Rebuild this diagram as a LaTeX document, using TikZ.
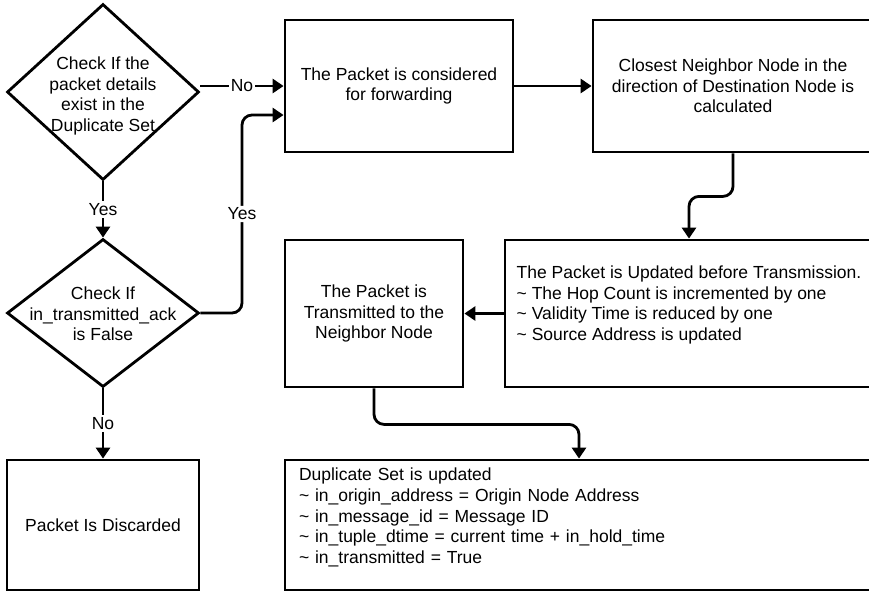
\documentclass[tikz,border=0pt]{standalone}
\usepackage{fontspec}
\setmainfont{Liberation Sans}
\usetikzlibrary{shapes.geometric,arrows.meta,calc}
\begin{document}
\begin{tikzpicture}[x=1pt,y=-1pt,
  every node/.style={font=\fontsize{17.5}{20.7}\selectfont},
  box/.style={draw, line width=2.8pt, rectangle, inner sep=0pt, align=center},
  decision/.style={draw, line width=2.8pt, diamond, inner sep=0pt},
  conn/.style={line width=2.8pt, -{Triangle[length=11pt,width=14pt]}},
  elbow/.style={rounded corners=10pt},
  lbl/.style={fill=white, inner sep=2pt}]
\useasboundingbox (0,0) rectangle (869,592);
\clip (0,0) rectangle (869,592);

% decisions
\node[decision, minimum width=192pt, minimum height=176pt,
      label={[align=center, yshift=-4pt]center:{Check If the\\packet details\\exist in the\\Duplicate Set}}]
      (d1) at (103,92) {};
\node[decision, minimum width=192pt, minimum height=148pt,
      label={[align=center, yshift=-1pt]center:{Check If\\in\_transmitted\_ack\\is False}}]
      (d2) at (103,313) {};

% process boxes
\node[box, minimum width=192pt, minimum height=130pt] (discard) at (103,525)
      {Packet Is Discarded};
\node[box, minimum width=228pt, minimum height=132pt] (fwd) at (399,86)
      {The Packet is considered\\for forwarding};
\node[box, minimum width=280pt, minimum height=132pt] (closest) at (733,86)
      {Closest Neighbor Node in the\\direction of Destination Node is\\calculated};
\node[box, minimum width=368pt, minimum height=147pt, align=left]
      (update) at (689,313.5)
      {The Packet is Updated before Transmission.\\
       \textasciitilde{} The Hop Count is incremented by one\\
       \textasciitilde{} Validity Time is reduced by one\\
       \textasciitilde{} Source Address is updated\\ \mbox{}};
\node[box, minimum width=178pt, minimum height=147pt] (trans) at (374,313.5)
      {The Packet is\\Transmitted to the\\Neighbor Node};
\node[box, minimum width=588pt, minimum height=130pt, text width=560pt, align=left]
      (dup) at (579,525)
      {\rule{0pt}{15pt}Duplicate Set is updated\\
       \textasciitilde{} in\_origin\_address = Origin Node Address\\
       \textasciitilde{} in\_message\_id = Message ID\\
       \textasciitilde{} in\_tuple\_dtime = current time + in\_hold\_time\\
       \textasciitilde{} in\_transmitted = True\\ \mbox{}};

% routing helpers
\coordinate (yescol) at (242,0);
\coordinate (yesin) at ($(fwd.west)+(0,29)$);

% connectors
\draw[conn] (fwd.west -| d1.east) -- node[lbl]{No} (fwd.west);
\draw[conn, elbow] (d2.east) -- (d2.east -| yescol) -- node[lbl]{Yes} (yesin -| yescol) -- (yesin);
\draw[conn] (d1.south) -- node[lbl]{Yes} (d2.north);
\draw[conn] (d2.south) -- node[lbl]{No} (discard.north);
\draw[conn] (fwd.east) -- (closest.west);
\draw[conn, elbow] (closest.south) -- ++(0,43) -| (update.north);
\draw[conn] (update.west) -- (trans.east);
\draw[conn, elbow] (trans.south) -- ++(0,36) -| (dup.north);
\end{tikzpicture}
\end{document}
